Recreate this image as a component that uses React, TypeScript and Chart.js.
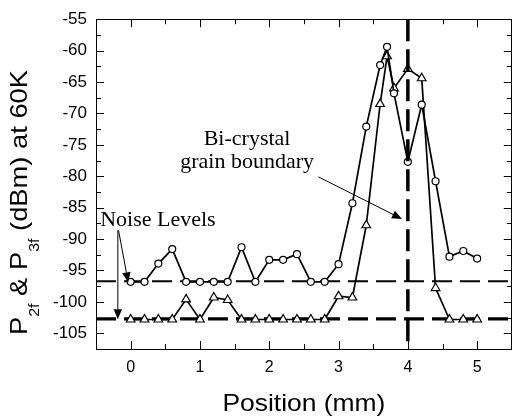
import React, { useEffect, useRef } from "react";
import { Chart, registerables } from "chart.js";

Chart.register(...registerables);

// Scan positions (mm)
const positions = [0, 0.2, 0.4, 0.6, 0.8, 1.0, 1.2, 1.4, 1.6, 1.8, 2.0, 2.2, 2.4, 2.6, 2.8, 3.0, 3.2, 3.4, 3.6, 3.7, 3.8, 4.0, 4.2, 4.4, 4.6, 4.8, 5.0];
// P2f (circles), dBm
const p2f = [-96.8, -96.8, -93.9, -91.6, -96.8, -96.8, -96.8, -96.8, -91.3, -96.8, -93.3, -93.3, -92.4, -96.8, -96.8, -94.0, -84.3, -72.1, -62.3, -59.4, -66.8, -77.7, -68.6, -80.8, -92.8, -91.9, -93.1];
// P3f (triangles), dBm
const p3f = [-102.8, -102.8, -102.8, -102.8, -99.6, -102.8, -99.3, -99.7, -102.8, -102.8, -102.8, -102.8, -102.8, -102.8, -102.8, -99.1, -99.3, -87.8, -68.5, -60.9, -66.0, -62.9, -64.4, -97.8, -102.8, -102.8, -102.8];

const noise2f = -96.7;
const noise3f = -102.7;
const boundaryPos = 4;

const xMin = -0.5;
const xMax = 5.5;
const yMin = -107.5;
const yMax = -55;
const xTicks = [0, 1, 2, 3, 4, 5];
const yTicks = [-55, -60, -65, -70, -75, -80, -85, -90, -95, -100, -105];

const xTitle = "Position (mm)";
const yTitleParts = [
  { t: "P", sub: false },
  { t: "2f", sub: true },
  { t: " & P", sub: false },
  { t: "3f", sub: true },
  { t: " (dBm) at 60K", sub: false },
];

const boundaryLines = ["Bi-crystal", "grain boundary"];
const boundaryLabelPos = { x: 1.68, y1: -75.1, y2: -78.75 };
const noiseLabel = { text: "Noise Levels", x: -0.44, y: -87.9 };
const arrows = [
  { x1: 2.71, y1: -80.1, x2: 3.915, y2: -86.8 },
  { x1: -0.175, y1: -88.6, x2: -0.035, y2: -96.9 },
  { x1: -0.185, y1: -88.6, x2: -0.185, y2: -102.75 },
];

const SANS = "'Liberation Sans', Arial, sans-serif";
const SERIF = "'Liberation Serif', 'Times New Roman', serif";

function drawArrow(ctx: CanvasRenderingContext2D, x1: number, y1: number, x2: number, y2: number) {
  const len = 10;
  const half = 4.2;
  const a = Math.atan2(y2 - y1, x2 - x1);
  const bx = x2 - len * Math.cos(a);
  const by = y2 - len * Math.sin(a);
  ctx.beginPath();
  ctx.moveTo(x1, y1);
  ctx.lineTo(bx, by);
  ctx.stroke();
  ctx.beginPath();
  ctx.moveTo(x2, y2);
  ctx.lineTo(bx + half * Math.sin(a), by - half * Math.cos(a));
  ctx.lineTo(bx - half * Math.sin(a), by + half * Math.cos(a));
  ctx.closePath();
  ctx.fill();
}

export default function App() {
  const ref = useRef<HTMLCanvasElement>(null);

  useEffect(() => {
    document.body.style.margin = "0";
    const canvas = ref.current!;

    const framePlugin = {
      id: "frame",
      afterDraw(chart: any) {
        const ctx: CanvasRenderingContext2D = chart.ctx;
        const { left, right, top, bottom } = chart.chartArea;
        const xs = chart.scales.x;
        const ys = chart.scales.y;
        ctx.save();
        ctx.strokeStyle = "#000";
        ctx.fillStyle = "#000";
        ctx.lineWidth = 1;
        // frame
        ctx.strokeRect(Math.round(left) + 0.5, Math.round(top) + 0.5, Math.round(right - left) - 1, Math.round(bottom - top));
        // y ticks (inward, both sides)
        ctx.beginPath();
        for (let v = -105; v <= -55; v += 2.5) {
          const py = Math.round(ys.getPixelForValue(v)) + 0.5;
          if (py <= top + 1 || py >= bottom - 1) continue;
          const len = Math.abs(v % 5) < 1e-6 ? 8 : 5;
          ctx.moveTo(left, py);
          ctx.lineTo(left + len, py);
          ctx.moveTo(right, py);
          ctx.lineTo(right - len, py);
        }
        // x ticks (inward, top and bottom)
        for (let v = xMin; v <= xMax; v += 0.5) {
          const px = Math.round(xs.getPixelForValue(v)) + 0.5;
          if (px <= left + 1 || px >= right - 1) continue;
          const len = Math.abs(v - Math.round(v)) < 1e-6 ? 8 : 5;
          ctx.moveTo(px, bottom);
          ctx.lineTo(px, bottom - len);
          ctx.moveTo(px, top);
          ctx.lineTo(px, top + len);
        }
        ctx.stroke();

        // x title
        ctx.font = `24px ${SANS}`;
        ctx.textAlign = "center";
        ctx.textBaseline = "alphabetic";
        const wx = ctx.measureText(xTitle).width;
        ctx.save();
        ctx.translate((left + right) / 2, bottom + 62);
        ctx.scale(163 / wx, 1);
        ctx.fillText(xTitle, 0, 0);
        ctx.restore();

        // y title (rotated, with subscripts)
        const mainFont = `24px ${SANS}`;
        const subFont = `14px ${SANS}`;
        let total = 0;
        const widths = yTitleParts.map((p) => {
          ctx.font = p.sub ? subFont : mainFont;
          const w = ctx.measureText(p.t).width;
          total += w;
          return w;
        });
        const ySpan = 265;
        ctx.save();
        ctx.translate(27, bottom - 14);
        ctx.rotate(-Math.PI / 2);
        ctx.scale(ySpan / total, 1);
        ctx.textAlign = "left";
        let cx = 0;
        yTitleParts.forEach((p, i) => {
          ctx.font = p.sub ? subFont : mainFont;
          ctx.fillText(p.t, cx, p.sub ? 12 : 0);
          cx += widths[i];
        });
        ctx.restore();

        // annotations
        ctx.font = `22px ${SERIF}`;
        ctx.textAlign = "center";
        ctx.fillText(boundaryLines[0], xs.getPixelForValue(boundaryLabelPos.x), ys.getPixelForValue(boundaryLabelPos.y1));
        ctx.fillText(boundaryLines[1], xs.getPixelForValue(boundaryLabelPos.x), ys.getPixelForValue(boundaryLabelPos.y2));
        ctx.textAlign = "left";
        ctx.fillText(noiseLabel.text, xs.getPixelForValue(noiseLabel.x), ys.getPixelForValue(noiseLabel.y));

        ctx.lineWidth = 1;
        arrows.forEach((a) => {
          drawArrow(
            ctx,
            xs.getPixelForValue(a.x1),
            ys.getPixelForValue(a.y1),
            xs.getPixelForValue(a.x2),
            ys.getPixelForValue(a.y2)
          );
        });
        ctx.restore();
      },
    };

    const chart = new Chart(canvas, {
      type: "scatter",
      data: {
        datasets: [
          {
            label: "boundary",
            data: [
              { x: boundaryPos, y: yMax },
              { x: boundaryPos, y: yMin },
            ],
            showLine: true,
            borderColor: "#000",
            borderWidth: 3.5,
            borderDash: [22, 8],
            pointRadius: 0,
            order: -1,
          },
          {
            label: "P2f",
            data: positions.map((x, i) => ({ x, y: p2f[i] })),
            showLine: true,
            borderColor: "#000",
            borderWidth: 1.7,
            tension: 0,
            pointStyle: "circle",
            pointRadius: 3.5,
            pointBackgroundColor: "#fff",
            pointBorderColor: "#000",
            pointBorderWidth: 1.2,
            order: 0,
          },
          {
            label: "P3f",
            data: positions.map((x, i) => ({ x, y: p3f[i] })),
            showLine: true,
            borderColor: "#000",
            borderWidth: 1.7,
            tension: 0,
            pointStyle: "triangle",
            pointRadius: 5,
            pointBackgroundColor: "#fff",
            pointBorderColor: "#000",
            pointBorderWidth: 1.2,
            order: 0,
          },
          {
            label: "noise2f",
            data: [
              { x: xMin, y: noise2f },
              { x: xMax, y: noise2f },
            ],
            showLine: true,
            borderColor: "#000",
            borderWidth: 2,
            borderDash: [20, 8],
            pointRadius: 0,
            order: 1,
          },
          {
            label: "noise3f",
            data: [
              { x: xMin, y: noise3f },
              { x: xMax, y: noise3f },
            ],
            showLine: true,
            borderColor: "#000",
            borderWidth: 3.2,
            borderDash: [20, 8],
            pointRadius: 0,
            order: 1,
          },
        ],
      },
      options: {
        animation: false,
        responsive: false,
        devicePixelRatio: 1,
        layout: { padding: { top: 10, right: 1, left: 0, bottom: 0 } },
        plugins: {
          legend: { display: false },
          tooltip: { enabled: false },
        },
        scales: {
          x: {
            type: "linear",
            min: xMin,
            max: xMax,
            grid: { display: false, drawTicks: false },
            border: { display: false },
            afterBuildTicks: (s: any) => {
              s.ticks = xTicks.map((v) => ({ value: v }));
            },
            afterFit: (s: any) => {
              s.height = 70;
            },
            ticks: {
              padding: 9,
              color: "#000",
              font: { family: SANS, size: 16 },
              maxRotation: 0,
              autoSkip: false,
              callback: (v: any) => String(v),
            },
          },
          y: {
            type: "linear",
            min: yMin,
            max: yMax,
            grid: { display: false, drawTicks: false },
            border: { display: false },
            afterBuildTicks: (s: any) => {
              s.ticks = yTicks.map((v) => ({ value: v }));
            },
            afterFit: (s: any) => {
              s.width = 96;
            },
            ticks: {
              padding: 9,
              color: "#000",
              font: { family: SANS, size: 17 },
              autoSkip: false,
              callback: (v: any) => String(v),
            },
          },
        },
      },
      plugins: [framePlugin],
    } as any);

    return () => chart.destroy();
  }, []);

  return (
    <div style={{ width: 518, height: 419 }}>
      <canvas ref={ref} width={518} height={419} style={{ display: "block" }} />
    </div>
  );
}
